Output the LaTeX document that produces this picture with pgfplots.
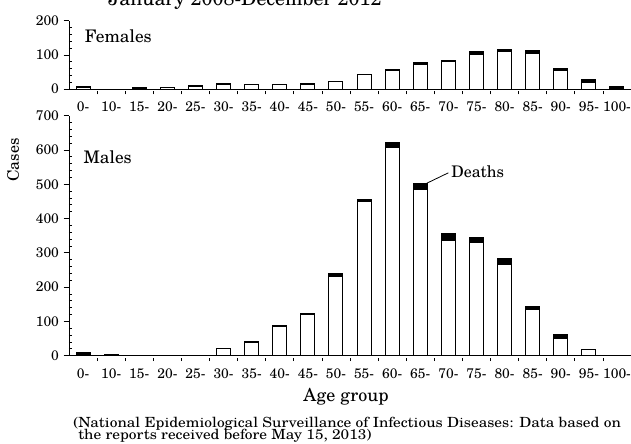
\documentclass[border=0pt]{standalone}
\usepackage{pgfplots}
\pgfplotsset{compat=1.18}
\usepackage{pgfplotstable}
\usepackage{fontspec}
\setmainfont{texgyreschola}[Extension=.otf, UprightFont=*-regular, BoldFont=*-bold, ItalicFont=*-italic, BoldItalicFont=*-bolditalic]

% idx: 0=0-, 1=10-, 2=15-, ..., 19=100-
\pgfplotstableread{
idx surv deaths
0 4 3
1 0 0
2 2 2
3 4 2
4 8 1
5 14 2
6 12 1
7 12 1
8 14 1
9 21 1
10 42 1
11 55 2
12 71 6
13 80 3
14 100 9
15 110 5
16 103 9
17 54 5
18 20 7
19 3 4
}\females

\pgfplotstableread{
idx surv deaths
0 5 3
1 1 2
2 1 1
3 1 1
4 1 1
5 21 1
6 40 1
7 84 3
8 120 4
9 232 8
10 451 5
11 607 16
12 484 17
13 337 20
14 329 15
15 267 18
16 135 10
17 51 10
18 17 2
19 1 1
}\males

\pgfplotsset{
  panel/.style={
    scale only axis, width=421.5pt,
    xmin=-0.5, xmax=19.5, ymin=0,
    axis x line*=bottom, axis y line*=left,
    ybar stacked, bar width=0.5,
    xtick={0,...,19},
    xticklabels={0-,10-,15-,20-,25-,30-,35-,40-,45-,50-,55-,60-,65-,70-,75-,80-,85-,90-,95-,100-},
    major x tick style={draw=none},
    minor xtick={0.5,1.5,...,18.5},
    minor x tick style={yshift=-1.5pt},
    minor y tick num=4,
    minor y tick style={xshift=2.5pt},
    tick align=outside,
    major tick length=4pt, minor tick length=2.5pt,
    tick style={black, line width=0.6pt},
    axis line style={line width=0.7pt},
    ticklabel style={font=\fontsize{10.4}{12}\selectfont},
    xticklabel style={yshift=-2pt},
    /pgf/number format/assume math mode=true,
    clip=false,
  },
  survbar/.style={draw=black, fill=white, line width=0.75pt},
  deathbar/.style={draw=black, fill=black, line width=0.75pt},
}

\begin{document}
\begin{tikzpicture}
% Females
\begin{axis}[panel, at={(0,200pt)}, height=51.2pt, ymax=200, ytick={0,100,200}]
\addplot[survbar] table[x=idx, y=surv] {\females};
\addplot[deathbar] table[x=idx, y=deaths] {\females};
\node[anchor=west, font=\fontsize{13}{15}\selectfont] at (axis cs:-0.1,155) {Females};
\end{axis}
% Males
\begin{axis}[panel, height=180pt, ymax=700, ytick={0,100,...,700}]
\addplot[survbar] table[x=idx, y=surv] {\males};
\addplot[deathbar] table[x=idx, y=deaths] {\males};
\node[anchor=west, font=\fontsize{13}{15}\selectfont] at (axis cs:-0.15,579) {Males};
\draw[line width=0.6pt] (axis cs:12.23,503) -- (axis cs:13.0,533.5);
\node[anchor=west, font=\fontsize{12}{14}\selectfont, inner sep=1pt] at (axis cs:13.05,538) {Deaths};
\end{axis}
\node[rotate=90, font=\fontsize{12}{14}\selectfont] at (-42pt,146.8pt) {Cases};
\node[anchor=base, font=\fontsize{14.8}{16}\selectfont] at (132pt,263pt) {January 2008-December 2012};
\node[font=\fontsize{13.5}{15}\selectfont] at (207.8pt,-31pt) {Age group};
\node[anchor=base west, inner sep=0pt, font=\fontsize{10.5}{11}\selectfont] at (3pt,-53.5pt)
  {\scalebox{1.1}[1]{(National Epidemiological Surveillance of Infectious Diseases: Data based on}};
\node[anchor=base west, inner sep=0pt, font=\fontsize{10.5}{11}\selectfont] at (6.75pt,-62.5pt)
  {\scalebox{1.1}[1]{the reports received before May 15, 2013)}};
\pgfresetboundingbox
\path (-51.75pt,-65.5pt) rectangle (421.5pt,266.8pt);
\end{tikzpicture}
\end{document}
